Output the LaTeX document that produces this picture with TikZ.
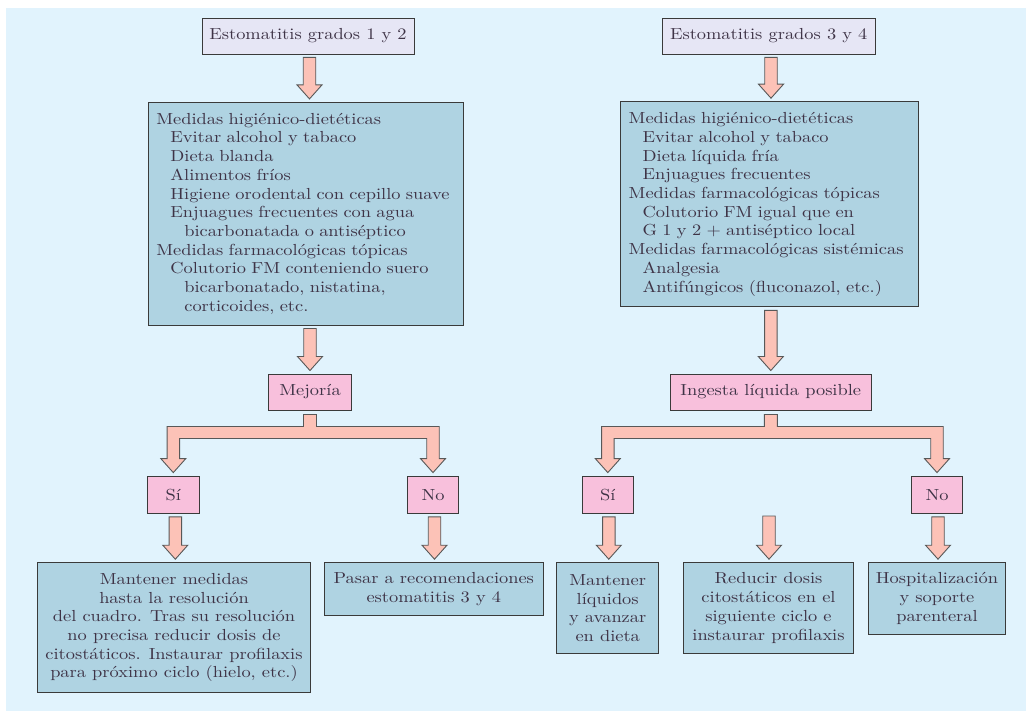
\documentclass[tikz,border=0pt]{standalone}
\usepackage{fontspec}
\setmainfont{lmroman10-regular.otf}[FakeStretch=1.15]
\usetikzlibrary{calc}
\definecolor{fondo}{HTML}{E1F3FD}
\definecolor{lila}{HTML}{E6E6F5}
\definecolor{celeste}{HTML}{AFD3E2}
\definecolor{rosa}{HTML}{F8C0DC}
\definecolor{salmon}{HTML}{FCC2B7}
\definecolor{borde}{HTML}{3A3A3A}
\definecolor{texto}{HTML}{3E3346}
\newcommand{\nivuno}{\hspace*{6pt}}
\newcommand{\nivdos}{\hspace*{20pt}}
\newcommand{\nivtres}{\hspace*{34pt}}
\newcommand{\flecha}[2]{\draw[flecha] ($(#1)+(-6.25,0)$) -- ($(#1 |- #2.north)+(-6.25,-17)$) -- ($(#1 |- #2.north)+(-12.5,-17)$) -- ($(#1 |- #2.north)+(0,-3)$) -- ($(#1 |- #2.north)+(12.5,-17)$) -- ($(#1 |- #2.north)+(6.25,-17)$) -- ($(#1)+(6.25,0)$) -- cycle;}
\newcommand{\rama}[3]{\draw[flecha] ($(#1)+(-6.5,0)$) -- ($(#1)+(-6.5,12)$) -- ($(#2 |- #1)+(-6.25,12)$) -- ($(#2.north)+(-6.25,-17)$) -- ($(#2.north)+(-12.5,-17)$) -- ($(#2.north)+(0,-3)$) -- ($(#2.north)+(12.5,-17)$) -- ($(#2.north)+(6.25,-17)$) -- ($(#2 |- #1)+(6.25,24)$) -- ($(#3 |- #1)+(-6.25,24)$) -- ($(#3.north)+(-6.25,-17)$) -- ($(#3.north)+(-12.5,-17)$) -- ($(#3.north)+(0,-3)$) -- ($(#3.north)+(12.5,-17)$) -- ($(#3.north)+(6.25,-17)$) -- ($(#3 |- #1)+(6.25,12)$) -- ($(#1)+(6.5,12)$) -- ($(#1)+(6.5,0)$) -- cycle;}

\begin{document}
\begin{tikzpicture}[x=1pt,y=-1pt,font=\fontsize{16}{18.7}\selectfont]
\tikzset{cabecera/.style={draw=borde, fill=lila, text=texto, line width=0.9pt, inner sep=0pt, minimum height=36pt},
  caja/.style={draw=borde, fill=celeste, text=texto, line width=0.9pt, inner sep=0pt, align=center},
  lista/.style={draw=borde, fill=celeste, text=texto, line width=0.9pt, inner xsep=2pt, inner ysep=0pt, align=left},
  decision/.style={draw=borde, fill=rosa, text=texto, line width=0.9pt, inner sep=0pt, minimum height=36pt},
  flecha/.style={draw=borde!85, fill=salmon, line width=0.9pt, line join=miter}}
\useasboundingbox (0,0) rectangle (1026,711);
\fill[fondo] (6,8) rectangle (1026,711);
\node[cabecera, minimum width=212pt] (t1) at (308,36) {Estomatitis grados 1 y 2};
\node[cabecera, minimum width=213pt] (t2) at (768.7,36) {Estomatitis grados 3 y 4};
\node[lista, text width=310.7pt, minimum height=222.7pt] (m1) at (305.7,213.7) {\nivuno Medidas higiénico-dietéticas\\
  \nivdos Evitar alcohol y tabaco\\
  \nivdos Dieta blanda\\
  \nivdos Alimentos fríos\\
  \nivdos Higiene orodental con cepillo suave\\
  \nivdos Enjuagues frecuentes con agua\\
  \nivtres bicarbonatada o antiséptico\\
  \nivuno Medidas farmacológicas tópicas\\
  \nivdos Colutorio FM conteniendo suero\\
  \nivtres bicarbonatado, nistatina,\\
  \nivtres corticoides, etc.};
\node[lista, text width=293.3pt, minimum height=205.3pt] (m2) at (769.3,204.3) {\nivuno Medidas higiénico-dietéticas\\
  \nivdos Evitar alcohol y tabaco\\
  \nivdos Dieta líquida fría\\
  \nivdos Enjuagues frecuentes\\
  \nivuno Medidas farmacológicas tópicas\\
  \nivdos Colutorio FM igual que en\\
  \nivdos G 1 y 2 + antiséptico local\\
  \nivuno Medidas farmacológicas sistémicas\\
  \nivdos Analgesia\\
  \nivdos Antifúngicos (fluconazol, etc.)};
\node[decision, minimum width=83.4pt] (d1) at (310,392) {Mejoría};
\node[decision, minimum width=200.3pt] (d2) at (770.8,392) {Ingesta líquida posible};
\node[decision, minimum width=51.3pt, minimum height=37.3pt] (s1) at (173.3,494.7) {Sí};
\node[decision, minimum width=51.3pt, minimum height=37.3pt] (n1) at (433,494.7) {No};
\node[decision, minimum width=51.7pt, minimum height=37.3pt] (s2) at (607.8,494.7) {Sí};
\node[decision, minimum width=51.3pt, minimum height=37.3pt] (n2) at (937,494.7) {No};
\node[caja, minimum width=273.3pt, minimum height=129.7pt] (r1) at (174,627.5) {Mantener medidas\\hasta la resolución\\del cuadro. Tras su resolución\\no precisa reducir dosis de\\citostáticos. Instaurar profilaxis\\para próximo ciclo (hielo, etc.)};
\node[caja, minimum width=219pt, minimum height=52.3pt] (r2) at (433.8,588.8) {Pasar a recomendaciones\\estomatitis 3 y 4};
\node[caja, minimum width=102pt, minimum height=90.7pt] (r3) at (607.7,608) {Mantener\\líquidos\\y avanzar\\en dieta};
\node[caja, minimum width=169.7pt, minimum height=90.7pt] (r4) at (768.5,608) {Reducir dosis\\citostáticos en el\\siguiente ciclo e\\instaurar profilaxis};
\node[caja, minimum width=137.3pt, minimum height=71.7pt] (r5) at (937,598.5) {Hospitalización\\y soporte\\parenteral};
\coordinate (a1) at ($(t1.south)+(1.5,3)$);
\coordinate (a2) at ($(t2.south)+(2.3,3)$);
\coordinate (a3) at ($(d1 |- m1.south)+(0,3)$);
\coordinate (a4) at ($(d2 |- m2.south)+(0,3)$);
\coordinate (b1) at ($(d1.south)+(0,4)$);
\coordinate (b2) at ($(d2.south)+(0,4)$);
\coordinate (c1) at ($(s1.south)+(2,3)$);
\coordinate (c2) at ($(n1.south)+(1.5,3)$);
\coordinate (c3) at ($(s2.south)+(1,3)$);
\coordinate (c4) at (769,516);
\coordinate (c5) at ($(n2.south)+(1,3)$);
\flecha{a1}{m1}
\flecha{a2}{m2}
\flecha{a3}{d1}
\flecha{a4}{d2}
\rama{b1}{s1}{n1}
\rama{b2}{s2}{n2}
\flecha{c1}{r1}
\flecha{c2}{r2}
\flecha{c3}{r3}
\flecha{c4}{r4}
\flecha{c5}{r5}
\end{tikzpicture}
\end{document}
